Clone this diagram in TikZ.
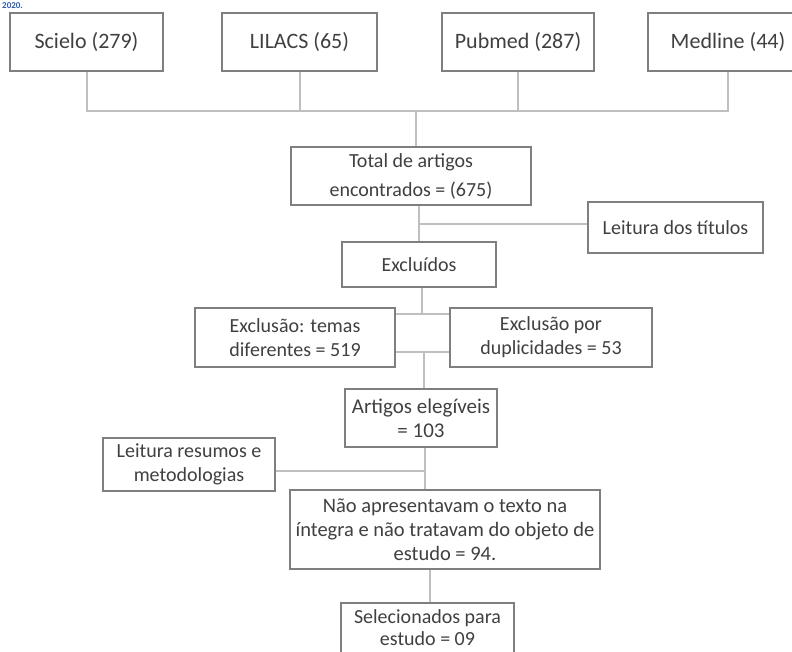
\documentclass[tikz,border=0pt]{standalone}
\usepackage{fontspec}
\setmainfont{Carlito}
\usepackage{tikz}
\usetikzlibrary{positioning,calc}
\usepackage{xcolor}
\definecolor{flBox}{HTML}{7F7F7F}
\definecolor{flLine}{HTML}{BFBFBF}
\definecolor{flText}{HTML}{404040}
\definecolor{flLink}{HTML}{2E5AAC}
\tikzset{
  box/.style={draw=flBox, line width=2.6pt, fill=white, align=center, inner sep=3pt, text=flText, font=\fontsize{20}{24}\selectfont},
  dbbox/.style={box, minimum height=58pt, font=\fontsize{22}{24}\selectfont},
  link/.style={draw=flLine, line width=2pt}
}

\begin{document}
\begin{tikzpicture}[x=1pt,y=-1pt]
  \useasboundingbox (0,0) rectangle (792,652);
  \node[anchor=base west, inner sep=0pt, font=\fontsize{9}{9}\selectfont\bfseries, text=flLink] (year) at (2,8.5) {2020.};

  % bases de dados
  \node[dbbox, minimum width=153pt] (scielo) at (86.5,42) {Scielo (279)};
  \node[dbbox, minimum width=155pt] (lilacs) at (299.5,42) {LILACS (65)};
  \node[dbbox, minimum width=152pt] (pubmed) at (518,42) {Pubmed (287)};
  \node[dbbox, minimum width=160pt] (medline) at (728,42) {Medline (44)};
  \coordinate (bus) at (416,111);
  \foreach \db in {scielo,lilacs,pubmed,medline}{
    \draw[link] (\db.south) |- (bus);
  }

  \node[box, minimum width=240pt, minimum height=58pt, font=\fontsize{20}{29}\selectfont] (total) at (411,176) {Total de artigos\\encontrados = (675)};
  \draw[link] (scielo.south |- bus) -- (medline.south |- bus);
  \draw[link] (bus) -- (bus |- total.north);

  \node[box, minimum width=175pt, minimum height=51pt] (titulos) at (675.5,227.5) {Leitura dos títulos};
  \node[box, minimum width=154pt, minimum height=45pt] (excl) at (419,264.5) {Excluídos};
  \draw[link] (total.south -| excl.north) -- (excl.north);
  \draw[link] (titulos.west |- 0,224) -- (excl.north |- 0,224);

  \node[box, minimum width=200pt, minimum height=59pt] (temas) at (295,337.5) {Exclusão: temas\\diferentes = 519};
  \node[box, minimum width=202pt, minimum height=59pt] (dupl) at (551,337.5) {Exclusão por\\duplicidades = 53};
  \coordinate (split) at (422,314);
  \coordinate (join) at (424,352);
  \draw[link] (excl.south -| split) -- (split);
  \draw[link] (temas.east |- split) -- (dupl.west |- split);
  \draw[link] (temas.east |- join) -- (dupl.west |- join);

  \node[box, minimum width=152pt, minimum height=58pt, font=\fontsize{21}{24}\selectfont] (eleg) at (421,418) {Artigos elegíveis\\= 103};
  \draw[link] (join) -- (join |- eleg.north);

  \node[box, minimum width=172pt, minimum height=53pt] (resumos) at (189,464.5) {Leitura resumos e\\metodologias};
  \node[box, minimum width=310pt, minimum height=79pt, font=\fontsize{20.5}{24}\selectfont] (nao) at (445,529.5) {Não apresentavam o texto na\\íntegra e não tratavam do objeto de\\estudo = 94.};
  \draw[link] (eleg.south -| 425,0) -- (425,0 |- nao.north);
  \draw[link] (resumos.east |- 0,471) -- (425,471);

  \node[box, minimum width=173pt, minimum height=50pt, font=\fontsize{20}{22}\selectfont] (selec) at (427.5,628) {Selecionados para\\estudo = 09};
  \draw[link] (nao.south -| 430,0) -- (430,0 |- selec.north);
\end{tikzpicture}
\end{document}
